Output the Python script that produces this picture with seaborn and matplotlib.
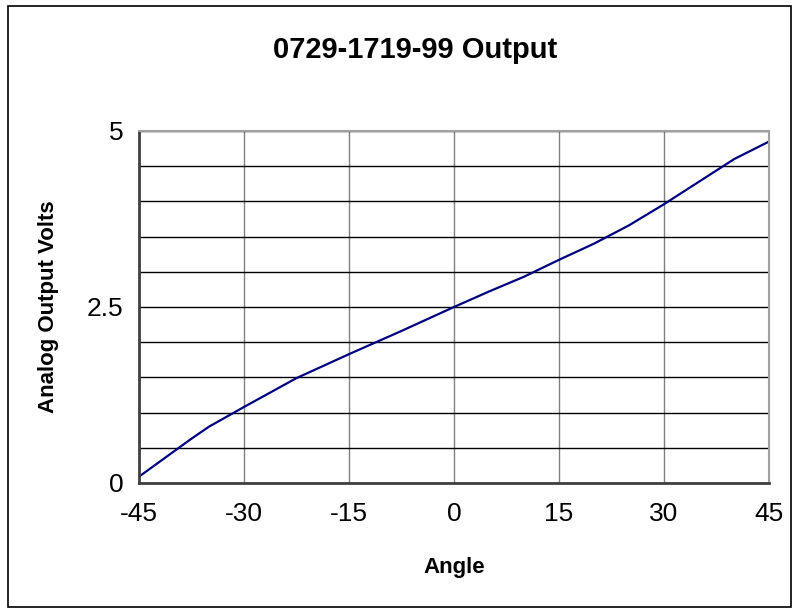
import matplotlib
matplotlib.use("Agg")
import matplotlib.pyplot as plt
import seaborn as sns
import pandas as pd
from matplotlib.patches import Rectangle
from matplotlib.ticker import MultipleLocator

# angle (deg) vs analog output (V)
angles = [-45, -37.5, -35, -30, -22.5, -15, -7.5, 0, 5, 10, 15, 20, 25, 30, 35, 40, 45]
volts = [0.09, 0.63, 0.80, 1.08, 1.49, 1.83, 2.16, 2.50, 2.72, 2.93, 3.17, 3.40, 3.66, 3.96, 4.28, 4.60, 4.85]

x_ticks = [-45, -30, -15, 0, 15, 30, 45]
y_ticks = [0, 2.5, 5]
y_tick_labels = ["0", "2.5", "5"]

sns.set_style("white")
plt.rcParams['font.family'] = ['Liberation Sans', 'DejaVu Sans']
plt.rcParams['text.color'] = 'black'
plt.rcParams['axes.labelcolor'] = 'black'
plt.rcParams['xtick.color'] = 'black'
plt.rcParams['ytick.color'] = 'black'

df = pd.DataFrame({"Angle": angles, "Volts": volts})

fig = plt.figure(figsize=(7.99, 6.12), dpi=100)
ax = fig.add_axes([139 / 799, 1 - 483 / 612, 630 / 799, 352 / 612])

# gridlines: black horizontals every 0.5 V, grey verticals every 15 deg
ax.yaxis.set_minor_locator(MultipleLocator(0.5))
ax.grid(True, axis='y', which='both', color='black', linewidth=1.0)
ax.grid(True, axis='x', which='major', color='#808080', linewidth=1.0)
ax.set_axisbelow(True)

sns.lineplot(data=df, x="Angle", y="Volts", color='#000080', linewidth=1.6, ax=ax)

ax.set_xlim(-45, 45)
ax.set_ylim(0, 5)
ax.set_xticks(x_ticks)
ax.set_xticklabels([str(t) for t in x_ticks])
ax.set_yticks(y_ticks)
ax.set_yticklabels(y_tick_labels)
ax.tick_params(axis='both', which='major', direction='out', length=6, width=1.0,
               labelsize=19)
ax.tick_params(axis='x', which='major', pad=8)
ax.tick_params(axis='y', which='major', pad=5)
ax.tick_params(axis='y', which='minor', length=0)

for side in ['top', 'right']:
    ax.spines[side].set_color('#a0a0a0')
    ax.spines[side].set_linewidth(1.5)
for side in ['left', 'bottom']:
    ax.spines[side].set_color('#404040')
    ax.spines[side].set_linewidth(2.0)

ax.set_xlabel("Angle", fontsize=16, fontweight='bold', labelpad=22)
ax.set_ylabel("Analog Output Volts", fontsize=16, fontweight='bold', labelpad=20)
fig.text(0.52, 1 - 50 / 612, "0729-1719-99 Output", ha='center', va='center',
         fontsize=21, fontweight='bold')

# outer chart border
fig.patches.append(Rectangle((8 / 799, 5 / 612), 783 / 799, 601 / 612,
                             transform=fig.transFigure, fill=False,
                             edgecolor='black', linewidth=1.2))

fig.savefig("out.png", dpi=100)
